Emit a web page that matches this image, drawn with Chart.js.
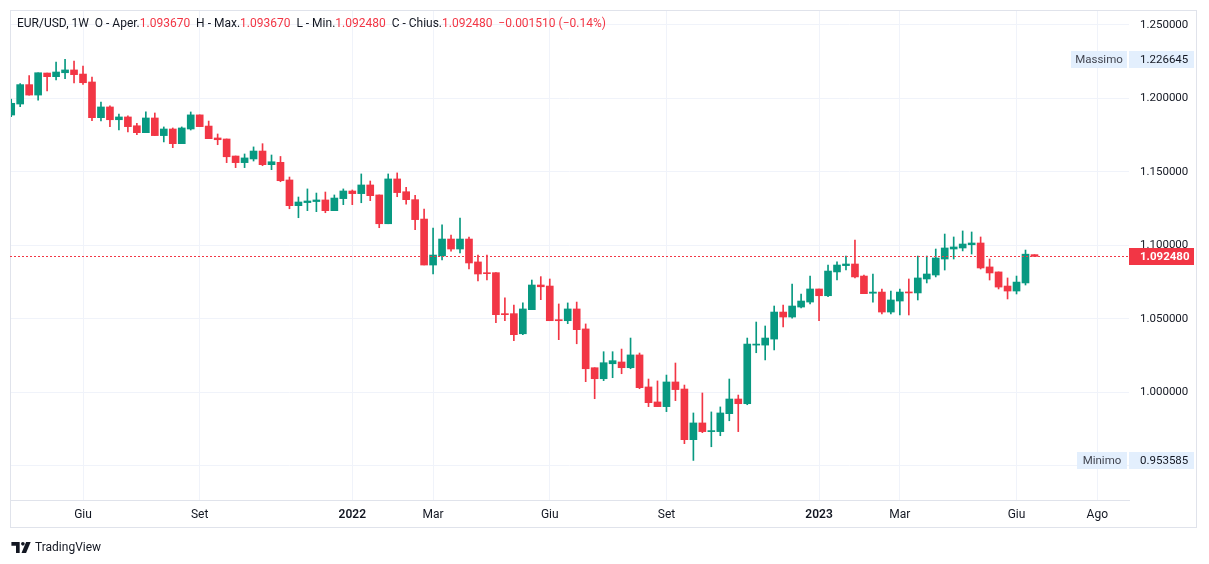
<!DOCTYPE html>
<html>
<head>
<meta charset="utf-8">
<script src="https://cdn.jsdelivr.net/npm/chart.js@4.4.0/dist/chart.umd.min.js"></script>
<style>
  html, body { margin: 0; padding: 0; background: #fff; }
  body { width: 1209px; height: 564px; position: relative; overflow: hidden; font-family: Roboto, "Noto Sans", sans-serif; }
  #c { position: absolute; left: 0; top: 0; }
  .legend { position: absolute; left: 17px; top: 16px; font-size: 12px; color: #131722; white-space: pre; }
  .legend .v { color: #F23645; }
  .brand { position: absolute; left: 11px; top: 540px; font-size: 12px; color: #131722; display: flex; align-items: center; gap: 3px; }
</style>
</head>
<body>
<canvas id="c" width="1209" height="564"></canvas>
<div class="legend" id="legend"></div>
<div class="brand">
  <svg width="21" height="11" viewBox="0 0 22 12"><path d="M0 0h9v12H5V4H0z" fill="#131722"/><circle cx="12.5" cy="2" r="2" fill="#131722"/><path d="M16 0h5l-5 12h-5z" fill="#131722"/></svg>
  <span>TradingView</span>
</div>
<script>
// EUR/USD weekly candles, week of 12 Apr 2021 .. week of 19 Jun 2023
const opens = [
  1.1887, 1.1962, 1.2094, 1.2023, 1.2173, 1.2148, 1.2175, 1.2194, 1.2166, 1.2112,
  1.1869, 1.1942, 1.1855, 1.1874, 1.1814, 1.1767, 1.1867, 1.1747, 1.1792, 1.1692,
  1.1792, 1.1888, 1.1812, 1.1731, 1.1724, 1.1608, 1.1563, 1.1588, 1.1642, 1.1549,
  1.1565, 1.1445, 1.1270, 1.1291, 1.1298, 1.1309, 1.1236, 1.1318, 1.1370, 1.1352,
  1.1411, 1.1343, 1.1147, 1.1452, 1.1365, 1.1311, 1.1179, 1.0866, 1.0928, 1.1043,
  1.0975, 1.1043, 1.0887, 1.0812, 1.0814, 1.0535, 1.0535, 1.0398, 1.0562, 1.0730,
  1.0723, 1.0494, 1.0487, 1.0567, 1.0431, 1.0167, 1.0092, 1.0194, 1.0206, 1.0167,
  1.0254, 1.0036, 0.9934, 0.9902, 1.0070, 1.0022, 0.9677, 0.9791, 0.9732, 0.9732,
  0.9854, 0.9954, 0.9922, 1.0321, 1.0321, 1.0362, 1.0546, 1.0512, 1.0580, 1.0614,
  1.0703, 1.0657, 1.0819, 1.0862, 1.0873, 1.0791, 1.0674, 1.0682, 1.0546, 1.0621,
  1.0682, 1.0676, 1.0771, 1.0798, 1.0907, 1.0975, 1.0982, 1.1004, 1.1016, 1.0853,
  1.0819, 1.0723, 1.0689, 1.0744, 1.09367
];
const highs = [
  1.1995, 1.2101, 1.2155, 1.2175, 1.2173, 1.2248, 1.226645, 1.2255, 1.2221, 1.2146,
  1.1976, 1.1949, 1.1894, 1.1881, 1.1830, 1.1908, 1.1901, 1.1806, 1.1799, 1.1806,
  1.1908, 1.1888, 1.1846, 1.1758, 1.1724, 1.1608, 1.1622, 1.1670, 1.1692, 1.1615,
  1.1605, 1.1465, 1.1329, 1.1384, 1.1356, 1.1363, 1.1343, 1.1384, 1.1377, 1.1486,
  1.1438, 1.1343, 1.1486, 1.1493, 1.1395, 1.1340, 1.1247, 1.1118, 1.1139, 1.1070,
  1.1186, 1.1057, 1.0934, 1.0934, 1.0814, 1.0642, 1.0594, 1.0608, 1.0764, 1.0787,
  1.0771, 1.0601, 1.0608, 1.0614, 1.0465, 1.0167, 1.0276, 1.0276, 1.0294, 1.0369,
  1.0267, 1.0090, 1.0077, 1.0117, 1.0199, 1.0049, 0.9859, 0.9995, 0.9866, 0.9900,
  1.0090, 0.9981, 1.0369, 1.0478, 1.0451, 1.0587, 1.0594, 1.0737, 1.0669, 1.0791,
  1.0703, 1.0866, 1.0887, 1.0927, 1.1036, 1.0798, 1.0805, 1.0703, 1.0689, 1.0703,
  1.0771, 1.0927, 1.0927, 1.0975, 1.1077, 1.1057, 1.1098, 1.1091, 1.1057, 1.0907,
  1.0819, 1.0778, 1.0791, 1.0968, 1.09367
];
const lows = [
  1.1876, 1.1944, 1.2023, 1.1989, 1.2051, 1.2126, 1.2134, 1.2105, 1.2096, 1.1849,
  1.1847, 1.1808, 1.1785, 1.1772, 1.1754, 1.1767, 1.1747, 1.1704, 1.1665, 1.1692,
  1.1785, 1.1808, 1.1726, 1.1685, 1.1563, 1.1529, 1.1529, 1.1574, 1.1542, 1.1515,
  1.1433, 1.1249, 1.1188, 1.1236, 1.1229, 1.1222, 1.1236, 1.1277, 1.1277, 1.1290,
  1.1304, 1.1120, 1.1147, 1.1331, 1.1280, 1.1107, 1.0866, 1.0805, 1.0900, 1.0961,
  1.0948, 1.0839, 1.0757, 1.0764, 1.0474, 1.0487, 1.0351, 1.0392, 1.0562, 1.0630,
  1.0487, 1.0358, 1.0467, 1.0330, 1.0072, 0.9956, 1.0079, 1.0099, 1.0126, 1.0160,
  1.0024, 0.9902, 0.9902, 0.9868, 0.9943, 0.9650, 0.953585, 0.9725, 0.9629, 0.9704,
  0.9806, 0.9732, 0.9915, 1.0269, 1.0220, 1.0288, 1.0444, 1.0505, 1.0574, 1.0601,
  1.0487, 1.0650, 1.0764, 1.0832, 1.0778, 1.0671, 1.0614, 1.0533, 1.0533, 1.0526,
  1.0526, 1.0628, 1.0744, 1.0785, 1.0832, 1.0907, 1.0962, 1.0941, 1.0839, 1.0764,
  1.0703, 1.0635, 1.0669, 1.0730, 1.09248
];
const closes = [
  1.1967, 1.2094, 1.2023, 1.2175, 1.2148, 1.2180, 1.2194, 1.2162, 1.2107, 1.1869,
  1.1942, 1.1855, 1.1874, 1.1808, 1.1767, 1.1867, 1.1747, 1.1792, 1.1692, 1.1799,
  1.1888, 1.1808, 1.1726, 1.1719, 1.1603, 1.1563, 1.1595, 1.1642, 1.1549, 1.1569,
  1.1440, 1.1270, 1.1295, 1.1302, 1.1309, 1.1236, 1.1322, 1.1370, 1.1352, 1.1411,
  1.1338, 1.1147, 1.1452, 1.1359, 1.1311, 1.1175, 1.0866, 1.0934, 1.1043, 1.0975,
  1.1043, 1.0880, 1.0805, 1.0807, 1.0528, 1.0528, 1.0392, 1.0567, 1.0730, 1.0718,
  1.0487, 1.0487, 1.0567, 1.0426, 1.0160, 1.0092, 1.0201, 1.0215, 1.0167, 1.0254,
  1.0031, 0.9929, 0.9902, 1.0070, 1.0018, 0.9677, 0.9791, 0.9732, 0.9738, 0.9859,
  0.9954, 0.9922, 1.0328, 1.0328, 1.0369, 1.0546, 1.0512, 1.0587, 1.0621, 1.0703,
  1.0657, 1.0825, 1.0866, 1.0873, 1.0785, 1.0671, 1.0682, 1.0546, 1.0628, 1.0682,
  1.0676, 1.0778, 1.0805, 1.0914, 1.0982, 1.0989, 1.1009, 1.1016, 1.0846, 1.0812,
  1.0716, 1.0689, 1.0750, 1.09399, 1.09248
];

// time axis: week index of the first bar of each labelled month
const tickWeeks = [8, 21, 38, 47, 60, 73, 90, 99, 112, 121];
const tickLabels = ['Giu', 'Set', '2022', 'Mar', 'Giu', 'Set', '2023', 'Mar', 'Giu', 'Ago'];
const priceTicks = [0.95, 1.0, 1.05, 1.1, 1.15, 1.2, 1.25];

const UP = '#089981';
const DOWN = '#F23645';
const FONT = 'Roboto, "Noto Sans", sans-serif';

const n = closes.length;
const last = n - 1;
const hi = Math.max(...highs);
const lo = Math.min(...lows);
const colors = closes.map((c, i) => (c >= opens[i] ? UP : DOWN));
const wickData = lows.map((l, i) => ({ x: i, y: [l, highs[i]] }));
const bodyData = opens.map((o, i) => ({ x: i, y: [o, closes[i]] }));

// header legend
const fmt = v => v.toFixed(6);
const chg = closes[last] - closes[last - 1];
const pct = chg / closes[last - 1] * 100;
const minus = s => s.replace('-', '\u2212');
document.getElementById('legend').innerHTML =
  'EUR/USD, 1W  O - Aper.<span class="v">' + fmt(opens[last]) + '</span>  H - Max.<span class="v">' + fmt(highs[last]) +
  '</span>  L - Min.<span class="v">' + fmt(lows[last]) + '</span>  C - Chius.<span class="v">' + fmt(closes[last]) +
  '</span>  <span class="v">' + minus(chg.toFixed(6)) + ' (' + minus(pct.toFixed(2)) + '%)</span>';

const overlay = {
  id: 'overlay',
  afterDraw(chart) {
    const { ctx, chartArea: a } = chart;
    const ys = chart.scales.y;
    ctx.save();
    // frame
    ctx.strokeStyle = '#e0e3eb';
    ctx.lineWidth = 1;
    ctx.strokeRect(10.5, 10.5, 1186, 517);

    // last price dotted line
    const py = Math.round(ys.getPixelForValue(closes[last])) + 0.5;
    ctx.strokeStyle = DOWN;
    ctx.setLineDash([2, 2]);
    ctx.beginPath();
    ctx.moveTo(a.left, py);
    ctx.lineTo(a.right, py);
    ctx.stroke();
    ctx.setLineDash([]);

    ctx.textBaseline = 'middle';
    const boxL = a.right;
    const boxW = 65;
    const tx = a.right + 11;

    // last price label
    ctx.fillStyle = colors[last];
    ctx.fillRect(boxL, py - 8.5, boxW, 17);
    ctx.fillStyle = '#fff';
    ctx.font = 'bold 11.5px ' + FONT;
    ctx.fillText(fmt(closes[last]), tx, py + 0.5);

    // max / min labels
    [['Massimo', hi, 56], ['Minimo', lo, 50]].forEach(([name, v, nw]) => {
      const y = Math.round(ys.getPixelForValue(v));
      ctx.fillStyle = '#e3effd';
      ctx.fillRect(boxL, y - 8, boxW, 17);
      ctx.fillRect(boxL - 2 - nw, y - 8, nw, 17);
      ctx.fillStyle = '#131722';
      ctx.font = '11.5px ' + FONT;
      ctx.fillText(fmt(v), tx, y + 1);
      ctx.fillStyle = '#434651';
      ctx.textAlign = 'center';
      ctx.fillText(name, boxL - 2 - nw / 2, y + 1);
      ctx.textAlign = 'left';
    });
    ctx.restore();
  }
};

new Chart(document.getElementById('c'), {
  type: 'bar',
  data: {
    datasets: [
      {
        data: wickData,
        backgroundColor: colors,
        barThickness: 1,
        grouped: false,
        order: 2
      },
      {
        data: bodyData,
        backgroundColor: colors,
        barThickness: 7,
        minBarLength: 1,
        grouped: false,
        order: 1
      }
    ]
  },
  options: {
    responsive: false,
    animation: false,
    devicePixelRatio: 1,
    layout: { padding: { left: 10, top: 10, right: 12, bottom: 36 } },
    plugins: { legend: { display: false }, tooltip: { enabled: false } },
    scales: {
      x: {
        type: 'linear',
        offset: false,
        min: -0.134,
        max: 124.53,
        grid: { color: '#f0f3fa', drawTicks: false, offset: false },
        border: { display: true, color: '#e0e3eb' },
        afterBuildTicks: s => { s.ticks = tickWeeks.map(v => ({ value: v })); },
        afterFit: s => { s.height = 28; s.paddingLeft = 0; s.paddingRight = 0; },
        ticks: {
          autoSkip: false,
          maxRotation: 0,
          padding: 8,
          color: '#131722',
          font: c => ({
            family: FONT,
            size: 12,
            weight: /^\d{4}$/.test(tickLabels[tickWeeks.indexOf(c.tick && c.tick.value)]) ? '600' : '400'
          }),
          callback: v => tickLabels[tickWeeks.indexOf(v)]
        }
      },
      y: {
        position: 'right',
        min: 0.92665,
        max: 1.2602,
        grid: { color: '#f0f3fa', drawTicks: false },
        border: { display: false },
        afterBuildTicks: s => { s.ticks = priceTicks.map(v => ({ value: v })); },
        afterFit: s => { s.width = 68; s.paddingTop = 0; s.paddingBottom = 0; },
        ticks: {
          padding: 11,
          color: '#131722',
          font: { family: FONT, size: 11.5 },
          // labels hidden under the max/min markers are not drawn
          callback: v => (Math.abs(v - lo) < 0.01 || Math.abs(v - hi) < 0.01 ? '' : v.toFixed(6))
        }
      }
    }
  },
  plugins: [overlay]
});
</script>
</body>
</html>
